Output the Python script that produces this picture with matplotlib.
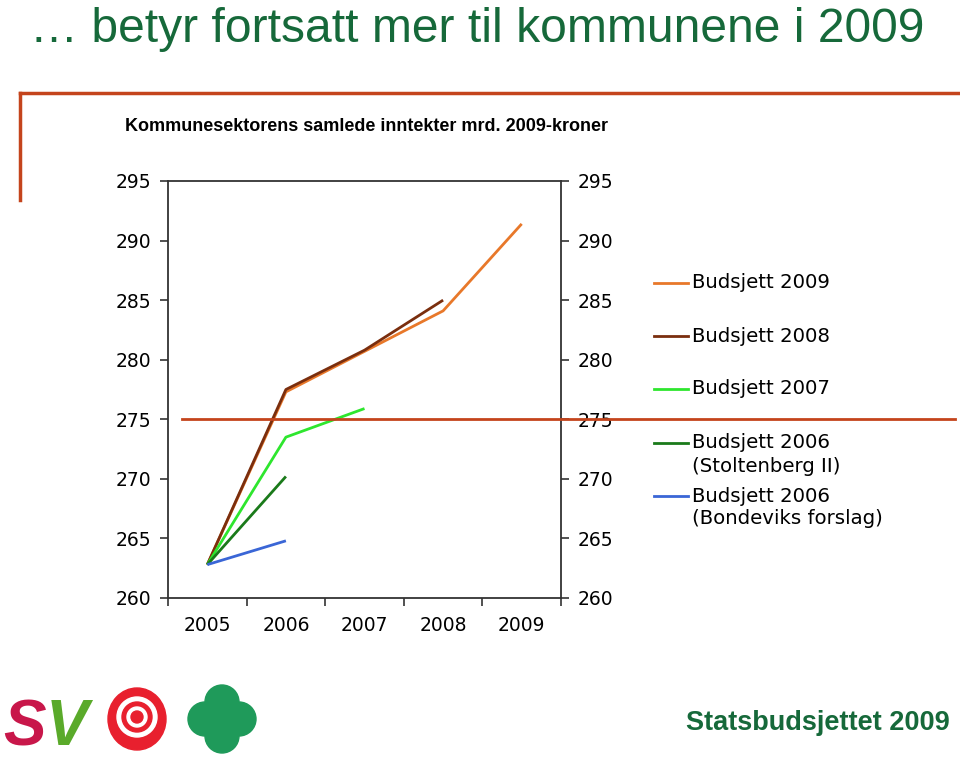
import matplotlib
matplotlib.use("Agg")
import matplotlib.pyplot as plt
from matplotlib.lines import Line2D
from matplotlib.patches import Ellipse
import matplotlib.transforms as mtransforms

years = ["2005", "2006", "2007", "2008", "2009"]
b2009 = [262.8, 277.3, 280.7, 284.1, 291.4]
b2008 = [262.8, 277.5, 280.8, 285.0]
b2007 = [262.8, 273.5, 275.9]
b2006_st = [262.8, 270.2]
b2006_bo = [262.8, 264.8]
series = [
    ("Budsjett 2009", b2009, "#e8782a"),
    ("Budsjett 2008", b2008, "#7a2e0e"),
    ("Budsjett 2007", b2007, "#2ee62e"),
    ("Budsjett 2006\n(Stoltenberg II)", b2006_st, "#1a7a1a"),
    ("Budsjett 2006\n(Bondeviks forslag)", b2006_bo, "#3a66d6"),
]
yticks = [260, 265, 270, 275, 280, 285, 290, 295]
ref_level = 275

GREEN = "#16693a"
RED = "#c4441c"
narrow = ["Liberation Sans Narrow", "Liberation Sans", "DejaVu Sans"]

fig = plt.figure(figsize=(9.6, 7.58), dpi=100)
W, H = 960, 758

def fx(px):
    return px / W

def fy(py):
    return 1 - py / H

# Title
fig.text(fx(30), fy(42), "\u2026 betyr fortsatt mer til kommunene i 2009",
         family=narrow, fontsize=34.6, color=GREEN, va="baseline", ha="left")

# Frame lines
fig.add_artist(Line2D([fx(20), fx(960)], [fy(93), fy(93)], color=RED, lw=2.5))
fig.add_artist(Line2D([fx(20), fx(20)], [fy(93), fy(200)], color=RED, lw=2.5))

# Subtitle
fig.text(fx(125), fy(131), "Kommunesektorens samlede inntekter mrd. 2009-kroner",
         family=narrow, fontsize=13, fontweight="bold", color="black",
         va="baseline", ha="left")

ax = fig.add_axes([fx(168), fy(598), fx(561) - fx(168), (598 - 181) / H])
xs = list(range(len(years)))
for label, vals, col in series:
    ax.plot(xs[:len(vals)], vals, color=col, lw=2, solid_capstyle="butt")

ax.set_xlim(-0.5, len(years) - 0.5)
ax.set_ylim(260, 295)
ax.set_yticks(yticks)
ax.set_xticks(xs)
ax.set_xticklabels(years)
ax.set_xticks([i - 0.5 for i in range(len(years) + 1)], minor=True)
ax.tick_params(axis="x", which="major", length=0, pad=13, labelsize=13.5)
ax.tick_params(axis="x", which="minor", length=6, width=1.2, direction="out", color="#333333")
ax.tick_params(axis="y", length=6, width=1.2, direction="out", labelsize=13.5, pad=6,
               color="#333333", left=True, right=True, labelleft=True, labelright=True)
for sp in ax.spines.values():
    sp.set_color("#333333")
    sp.set_linewidth(1.3)

# Red reference line at 275 spanning beyond the plot
trans = mtransforms.blended_transform_factory(fig.transFigure, ax.transData)
fig.add_artist(Line2D([fx(182), fx(955)], [ref_level, ref_level], color=RED, lw=2,
                      transform=trans))

# Manual legend
leg_y = [283, 336, 389, 443, 496]
for (label, vals, col), yy in zip(series, leg_y):
    fig.add_artist(Line2D([fx(654), fx(688)], [fy(yy), fy(yy)], color=col, lw=2))
    for k, ln in enumerate(label.split("\n")):
        fig.text(fx(692), fy(yy + 23 * k), ln, fontsize=14.2, va="center", ha="left")

# Footer text
fig.text(fx(950), fy(730), "Statsbudsjettet 2009", family=narrow, fontsize=19.5,
         fontweight="bold", color=GREEN, ha="right", va="baseline")

# Simple logo approximations
fig.text(fx(3), fy(745), "S", family=["Liberation Sans", "DejaVu Sans"], fontsize=46,
         fontweight="bold", style="italic", color="#c8174a", va="baseline")
fig.text(fx(46), fy(745), "V", family=["Liberation Sans", "DejaVu Sans"], fontsize=46,
         fontweight="bold", style="italic", color="#5aaa2a", va="baseline")
fig.add_artist(Ellipse((fx(137), fy(719)), fx(58), 62 / H, color="#e8202e"))
for r, c in [(20, "white"), (15, "#e8202e"), (10, "white"), (6, "#e8202e")]:
    fig.add_artist(Ellipse((fx(137), fy(717)), fx(2 * r), 2 * r / H, color=c))
for dx, dy in [(0, -17), (0, 17), (-17, 0), (17, 0)]:
    fig.add_artist(Ellipse((fx(222 + dx), fy(719 + dy)), fx(34), 34 / H, color="#1f9a5a"))
fig.add_artist(Ellipse((fx(222), fy(719)), fx(30), 30 / H, color="#1f9a5a"))

fig.savefig("out.png", dpi=100)
